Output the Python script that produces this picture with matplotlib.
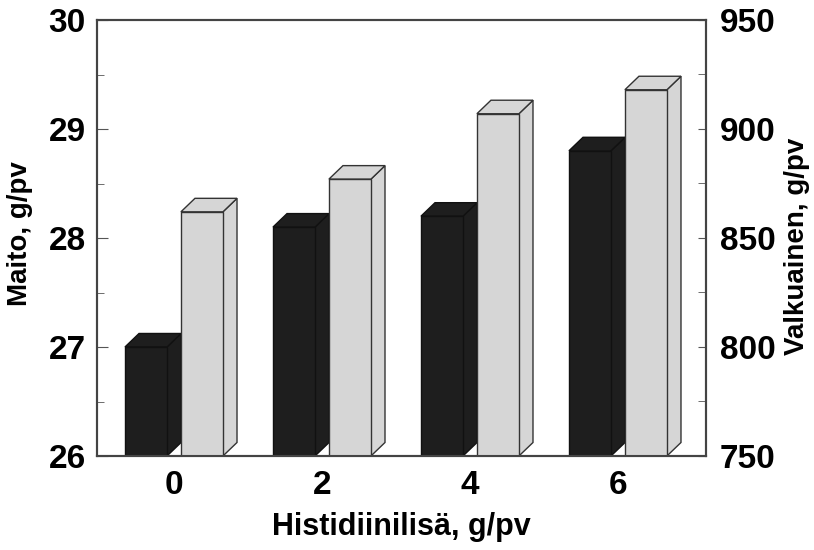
import matplotlib.pyplot as plt

plt.rcParams.update({'font.family': ['Liberation Sans', 'DejaVu Sans'], 'font.weight': 'bold'})

# data
doses = ['0', '2', '4', '6']
milk = [27.0, 28.1, 28.2, 28.8]          # Maito, g/pv (left axis)
protein = [862, 877, 907, 918]           # Valkuainen, g/pv (right axis)

BLACK = '#1e1e1e'
GREY = '#d6d6d6'
W = 0.284      # bar front width
SHIFT = 0.189  # offset of each bar from the group centre
DX = 0.095     # 3d depth in x units


def bar3d(ax, x, value, base, dy, face, edge, z):
    x0, x1 = x - W / 2, x + W / 2
    # side face, top face, then front face
    ax.fill([x1, x1, x1 + DX, x1 + DX], [base, value, value + dy, base + dy],
            facecolor=face, edgecolor=edge, linewidth=1.0, zorder=z)
    ax.fill([x0, x1, x1 + DX, x0 + DX], [value, value, value + dy, value + dy],
            facecolor=face, edgecolor=edge, linewidth=1.0, zorder=z)
    ax.bar(x, value - base, bottom=base, width=W, color=face, edgecolor=edge,
           linewidth=1.0, zorder=z + 0.1)


fig = plt.figure(figsize=(8.14, 5.5), dpi=100)
ax = fig.add_axes([97 / 814, 94 / 550, 609 / 814, 436 / 550])
ax2 = ax.twinx()

for i in range(len(doses)):
    bar3d(ax, i - SHIFT, milk[i], 26, 0.124, BLACK, '#111111', 2)
    bar3d(ax2, i + SHIFT, protein[i], 750, 6.2, GREY, '#333333', 2)

ax.set_xlim(-0.52, 3.595)
ax.set_ylim(26, 30)
ax2.set_ylim(750, 950)
ax.set_xticks(range(len(doses)))
ax.set_xticklabels(doses)
ax.set_yticks([26, 27, 28, 29, 30])
ax.set_yticks([26.5, 27.5, 28.5, 29.5], minor=True)
ax2.set_yticks([750, 800, 850, 900, 950])
ax2.set_yticks([775, 825, 875, 925], minor=True)

for a in (ax, ax2):
    for s in a.spines.values():
        s.set_color('#444444')
        s.set_linewidth(1.5)
ax.tick_params(axis='y', which='both', direction='in', labelsize=24, pad=8, color='#555555')
ax.tick_params(axis='y', which='major', length=8)
ax.tick_params(axis='y', which='minor', length=5)
ax.tick_params(axis='x', length=0, labelsize=24, pad=10)
ax2.tick_params(axis='y', which='both', direction='in', length=6, labelsize=24, pad=10, color='#555555')

ax.set_xlabel('Histidiinilisä, g/pv', fontsize=22, fontweight='bold')
ax.set_ylabel('Maito, g/pv', fontsize=20, fontweight='bold')
ax2.set_ylabel('Valkuainen, g/pv', fontsize=20, fontweight='bold')
ax.xaxis.set_label_coords(0.5, -0.163)
ax.xaxis.label.set_va('center')
ax.yaxis.set_label_coords(-0.126, 0.51)
ax.yaxis.label.set_va('center')
ax2.yaxis.set_label_coords(1.149, 0.48)
ax2.yaxis.label.set_va('center')

fig.savefig('out.png', dpi=100)
